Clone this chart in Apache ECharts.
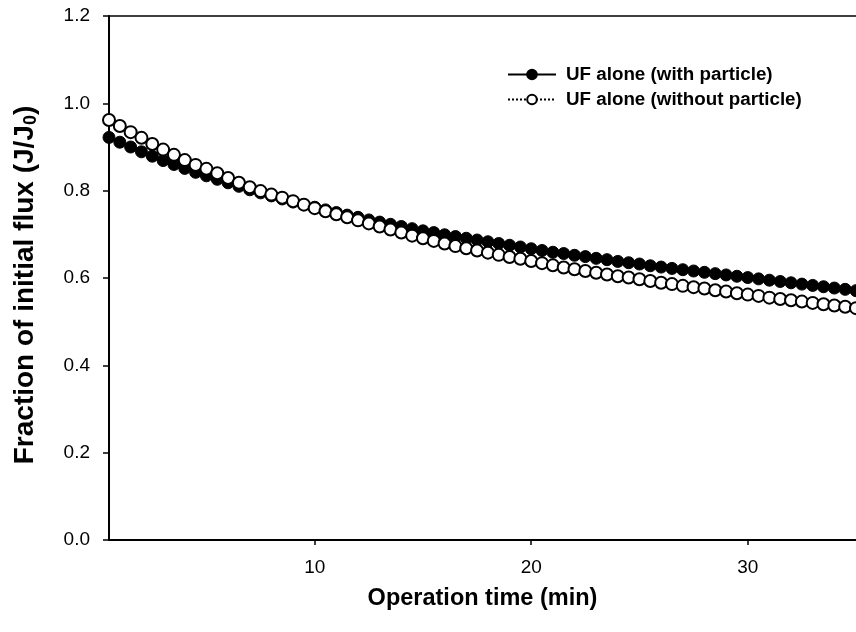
<!DOCTYPE html>
<html>
<head>
<meta charset="utf-8">
<script src="https://cdn.jsdelivr.net/npm/echarts@6/dist/echarts.min.js"></script>
<style>html,body{margin:0;padding:0;background:#fff;}#c{width:856px;height:632px;}</style>
</head>
<body>
<div id="c"></div>
<script>
var times = [0.5,1,1.5,2,2.5,3,3.5,4,4.5,5,5.5,6,6.5,7,7.5,8,8.5,9,9.5,10,10.5,11,11.5,12,12.5,13,13.5,14,14.5,15,15.5,16,16.5,17,17.5,18,18.5,19,19.5,20,20.5,21,21.5,22,22.5,23,23.5,24,24.5,25,25.5,26,26.5,27,27.5,28,28.5,29,29.5,30,30.5,31,31.5,32,32.5,33,33.5,34,34.5,35];
var withParticle = [0.922,0.911,0.900,0.889,0.879,0.869,0.860,0.851,0.842,0.834,0.826,0.818,0.810,0.802,0.795,0.788,0.781,0.774,0.768,0.762,0.756,0.750,0.744,0.739,0.733,0.728,0.723,0.718,0.713,0.708,0.704,0.699,0.695,0.691,0.687,0.683,0.679,0.675,0.671,0.667,0.663,0.659,0.656,0.652,0.649,0.645,0.642,0.638,0.635,0.632,0.628,0.625,0.622,0.619,0.616,0.613,0.610,0.607,0.604,0.601,0.598,0.595,0.592,0.589,0.586,0.583,0.580,0.577,0.574,0.571];
var withoutParticle = [0.962,0.948,0.934,0.921,0.907,0.894,0.882,0.870,0.859,0.850,0.840,0.829,0.818,0.808,0.799,0.791,0.784,0.776,0.768,0.760,0.753,0.746,0.739,0.732,0.725,0.718,0.711,0.704,0.697,0.691,0.685,0.679,0.673,0.668,0.663,0.658,0.653,0.648,0.644,0.639,0.634,0.629,0.624,0.620,0.616,0.612,0.608,0.604,0.601,0.597,0.593,0.589,0.586,0.582,0.579,0.576,0.572,0.569,0.565,0.562,0.559,0.555,0.552,0.549,0.546,0.543,0.540,0.537,0.534,0.531];
var xTicks = [10,20,30];
var seriesNames = ['UF alone (with particle)','UF alone (without particle)'];

function pairs(xs, ys){ return xs.map(function(x,i){ return [x, ys[i]]; }); }

var font = '"Liberation Sans", Arial, sans-serif';
var chart = echarts.init(document.getElementById('c'), null, {renderer:'canvas'});
chart.setOption({
  animation:false,
  backgroundColor:'#fff',
  grid:{left:109, right:0, top:16, bottom:92, containLabel:false},
  legend:{
    left:507, top:65, padding:0, orient:'vertical', itemGap:6, itemWidth:48, itemHeight:12,
    textStyle:{fontFamily:font, fontWeight:'bold', fontSize:18.8, color:'#000', padding:[0,0,0,5]},
    data:[seriesNames[0], seriesNames[1]]
  },
  xAxis:[{
    type:'value', min:0.5, max:35, position:'bottom',
    name:'Operation time (min)', nameLocation:'middle', nameGap:47,
    nameTextStyle:{fontFamily:font, fontWeight:'bold', fontSize:23.5, color:'#000'},
    axisLine:{lineStyle:{color:'#000', width:2}},
    axisTick:{show:true, length:5, lineStyle:{color:'#000', width:1.5}, customValues:xTicks},
    axisLabel:{customValues:xTicks, fontFamily:font, fontSize:19, color:'#000', margin:18},
    splitLine:{show:false}
  },{
    type:'value', min:0.5, max:35, position:'top',
    axisLine:{show:true, onZero:false, lineStyle:{color:'#000', width:1.5}},
    axisTick:{show:false}, axisLabel:{show:false}, splitLine:{show:false}
  }],
  yAxis:{
    type:'value', min:0, max:1.2, interval:0.2,
    name:'Fraction of initial flux (J/J{sub|0})', nameLocation:'middle', nameGap:69, nameRotate:90,
    nameTextStyle:{fontFamily:font, fontWeight:'bold', fontSize:28, color:'#000', padding:[0,14,0,0],
      rich:{sub:{fontFamily:font, fontWeight:'bold', fontSize:18, color:'#000', verticalAlign:'bottom', padding:[12,0,0,0]}}},
    axisLine:{show:true, onZero:false, lineStyle:{color:'#000', width:2}},
    axisTick:{show:true, length:6, lineStyle:{color:'#000', width:1.5}},
    axisLabel:{fontFamily:font, fontSize:19, color:'#000', margin:19, formatter:function(v){return v.toFixed(1);}},
    splitLine:{show:false}
  },
  series:[{
    name:seriesNames[0], type:'line', data:pairs(times, withParticle),
    symbol:'circle', symbolSize:12, showSymbol:true,
    lineStyle:{color:'#000', width:1.5},
    itemStyle:{color:'#000', borderColor:'#000', borderWidth:1},
    z:2
  },{
    name:seriesNames[1], type:'line', data:pairs(times, withoutParticle),
    symbol:'circle', symbolSize:12, showSymbol:true,
    lineStyle:{color:'#000', width:1, type:'dotted'},
    itemStyle:{color:'#fff', borderColor:'#000', borderWidth:2},
    z:3
  }]
});
</script>
</body>
</html>
